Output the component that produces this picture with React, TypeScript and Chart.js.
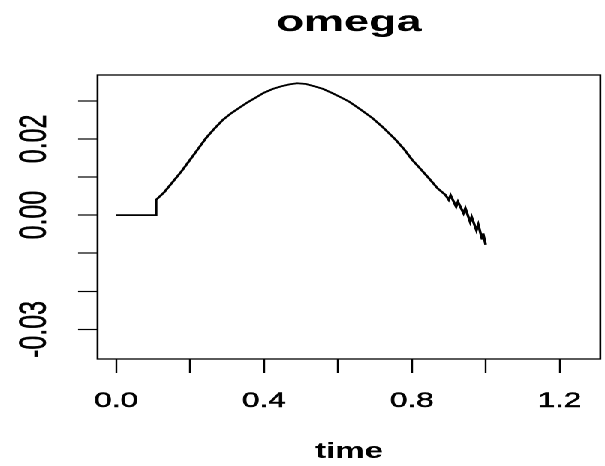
import React, { useEffect, useRef } from "react";
import { Chart, registerables } from "chart.js";

Chart.register(...registerables);

// ---- data ----
const timeValues = [
  0, 0.107, 0.108, 0.13, 0.154, 0.177, 0.2, 0.222, 0.244, 0.267, 0.289,
  0.311, 0.334, 0.356, 0.379, 0.4, 0.424, 0.447, 0.469, 0.49, 0.514, 0.54,
  0.56, 0.585, 0.61, 0.63, 0.66, 0.693, 0.72, 0.756, 0.78, 0.801, 0.82,
  0.846, 0.87, 0.891, 0.9, 0.905, 0.92, 0.925, 0.94, 0.945, 0.958, 0.962,
  0.975, 0.98, 0.99, 0.993, 1.0,
];
const omegaValues = [
  0, 0, 0.004, 0.006, 0.0088, 0.0115, 0.0145, 0.0174, 0.0203, 0.0228,
  0.025, 0.0267, 0.0282, 0.0296, 0.0309, 0.0321, 0.0331, 0.0338, 0.0343,
  0.0346, 0.0344, 0.0337, 0.0331, 0.032, 0.0308, 0.0298, 0.0278, 0.0255,
  0.0232, 0.0198, 0.0172, 0.0145, 0.0125, 0.0097, 0.007, 0.0053, 0.004,
  0.0052, 0.0022, 0.0035, 0.0005, 0.0018, -0.0018, -0.0005, -0.004, -0.0025,
  -0.0062, -0.0048, -0.0078,
];

const xTickValues = [0, 0.2, 0.4, 0.6, 0.8, 1.0, 1.2];
const xTickLabels = ["0.0", "", "0.4", "", "0.8", "", "1.2"];
const yTickValues = [-0.03, -0.02, -0.01, 0, 0.01, 0.02, 0.03];
const yTickLabels = ["-0.03", "", "", "0.00", "", "0.02", ""];

const xMin = -0.0504;
const xMax = 1.3104;
const yMin = -0.03776;
const yMax = 0.03676;

const titleText = "omega";
const xTitleText = "time";

// ---- layout constants ----
const STRETCH = 605 / 403;
const FONT = "'Liberation Sans', Arial, Helvetica, sans-serif";

const boxPlugin = {
  id: "plotBox",
  afterDraw(chart: any) {
    const { ctx, chartArea } = chart;
    ctx.save();
    ctx.strokeStyle = "#000";
    ctx.lineWidth = 1.3;
    ctx.strokeRect(
      chartArea.left,
      chartArea.top,
      chartArea.right - chartArea.left,
      chartArea.bottom - chartArea.top
    );
    ctx.restore();
  },
};

export default function App() {
  const canvasRef = useRef<HTMLCanvasElement | null>(null);

  useEffect(() => {
    if (!canvasRef.current) return;
    Chart.defaults.font.family = FONT;
    Chart.defaults.color = "#000";
    const chart = new Chart(canvasRef.current, {
      type: "line",
      data: {
        datasets: [
          {
            data: timeValues.map((t, i) => ({ x: t, y: omegaValues[i] })),
            borderColor: "#000",
            borderWidth: 1.8,
            pointRadius: 0,
            fill: false,
            tension: 0,
          },
        ],
      },
      options: {
        animation: false,
        responsive: true,
        maintainAspectRatio: false,
        devicePixelRatio: 2,
        layout: { padding: { left: 0, right: 2, top: 0, bottom: 0 } },
        plugins: {
          legend: { display: false },
          tooltip: { enabled: false },
          title: {
            display: true,
            text: titleText,
            fullSize: false,
            color: "#000",
            font: { size: 30, weight: "bold", family: FONT },
            padding: { top: 4.6, bottom: 34.4 },
          },
        },
        scales: {
          x: {
            type: "linear",
            min: xMin,
            max: xMax,
            afterBuildTicks: (scale: any) => {
              scale.ticks = xTickValues.map((v) => ({ value: v }));
            },
            afterFit: (scale: any) => {
              scale.height = 107;
            },
            ticks: {
              autoSkip: false,
              maxRotation: 0,
              minRotation: 0,
              padding: 15.4,
              color: "#000",
              textStrokeColor: "#000",
              textStrokeWidth: 0.5,
              font: { size: 21, family: FONT },
              callback: (_v: any, i: number) => xTickLabels[i],
            },
            grid: {
              drawOnChartArea: false,
              drawTicks: true,
              tickLength: 14,
              tickWidth: 1.2,
              tickColor: "#000",
            },
            border: { display: false },
            title: {
              display: true,
              text: xTitleText,
              color: "#000",
              font: { size: 22, weight: "bold", family: FONT },
              padding: { top: 0, bottom: 1.1 },
            },
          },
          y: {
            type: "linear",
            min: yMin,
            max: yMax,
            afterBuildTicks: (scale: any) => {
              scale.ticks = yTickValues.map((v) => ({ value: v }));
            },
            afterFit: (scale: any) => {
              scale.width = 64.95;
            },
            ticks: {
              autoSkip: false,
              minRotation: 90,
              maxRotation: 90,
              crossAlign: "center",
              padding: 0,
              color: "#000",
              textStrokeColor: "#000",
              textStrokeWidth: 0.4,
              font: { size: 25, family: FONT },
              callback: (_v: any, i: number) => yTickLabels[i],
            },
            grid: {
              drawOnChartArea: false,
              drawTicks: true,
              tickLength: 13,
              tickWidth: 1.2,
              tickColor: "#000",
            },
            border: { display: false },
          },
        },
      },
      plugins: [boxPlugin],
    } as any);
    return () => chart.destroy();
  }, []);

  return (
    <div
      style={{
        position: "absolute",
        left: 0,
        top: 0,
        width: 403,
        height: 466,
        transform: `scaleX(${STRETCH})`,
        transformOrigin: "0 0",
        background: "#fff",
      }}
    >
      <canvas ref={canvasRef} />
    </div>
  );
}
